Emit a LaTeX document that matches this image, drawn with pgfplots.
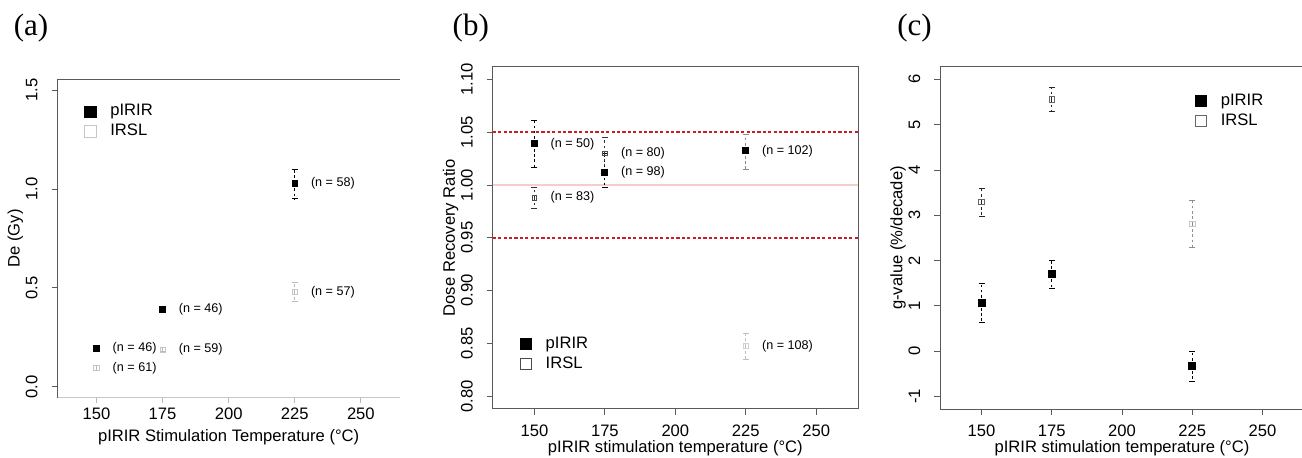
\documentclass[border=0pt]{standalone}
\usepackage{fontspec}
\setmainfont{Liberation Sans}
\newfontfamily\panelfont{Liberation Serif}
\usepackage{pgfplots}
\pgfplotsset{compat=1.18}

\definecolor{limred}{RGB}{200,30,40}
\definecolor{unitpink}{RGB}{245,205,205}
\definecolor{framegray}{gray}{0.35}

\newcommand\axfont{\fontsize{8.3}{10}\selectfont}
\newcommand\nfont{\fontsize{6.3}{7.5}\selectfont}

\pgfplotsset{
  rplot/.style={
    scale only axis,
    xmin=135.2, xmax=264.8,
    xtick={150,175,200,225,250},
    tick align=outside,
    major tick length=2.8pt,
    tick style={framegray, line width=0.5pt},
    axis line style={framegray, line width=0.5pt},
    /pgf/number format/assume math mode=true,
    ticklabel style={font=\axfont},
    xticklabel style={anchor=north, inner sep=0pt, yshift=-5pt},
    yticklabel style={xshift=-6.9pt, rotate=90, anchor=south, inner sep=0pt},
    label style={font=\axfont},
    xlabel style={at={([yshift=-19.5pt]axis description cs:0.5,0)}, anchor=center},
    ylabel style={at={([xshift=-21pt]axis description cs:0,0.5)}, anchor=center},
    legend style={draw=none, fill=none, inner sep=0pt, font=\axfont,
      row sep=2.6pt, nodes={inner sep=0pt},
      /tikz/every odd column/.append style={column sep=7.2pt}},
    legend cell align=left,
  },
  ebar/.style={
    error bars/y dir=both, error bars/y explicit,
    error bars/error bar style={#1, line width=0.5pt, dash pattern=on 1.3pt off 1.3pt},
    error bars/error mark options={rotate=90, mark size=1.5pt, #1}},
}

\begin{document}
\begin{tikzpicture}
\useasboundingbox (0,0) rectangle (651pt,229pt);

\node[font=\panelfont\fontsize{15.5}{18}\selectfont] at (15.5pt,214.85pt) {(a)};
\node[font=\panelfont\fontsize{15.5}{18}\selectfont] at (235.4pt,214.85pt) {(b)};
\node[font=\panelfont\fontsize{15.5}{18}\selectfont] at (457.3pt,214.85pt) {(c)};

% (a) equivalent dose
\begin{axis}[rplot,
  at={(28.65pt,30.15pt)}, anchor=south west,
  width=171.35pt, height=159.2pt,
  ymin=-0.055, ymax=1.555,
  ytick={0,0.5,1,1.5},
  yticklabel style={/pgf/number format/.cd, fixed, fixed zerofill, precision=1},
  xticklabel style={yshift=2.8pt},
  axis x line*=bottom, axis y line*=left,
  x axis line style={gray!45},
  xtick style={gray!55},
  xlabel={pIRIR Stimulation Temperature (°C)},
  xlabel style={yshift=-0.5pt},
  ylabel={De (Gy)},
  legend style={at={(axis description cs:0.079,0.922)}, anchor=north west},
  legend image code/.code={\draw[#1, mark size=2.8pt] plot coordinates {(0pt,0pt)};},
]
\draw[framegray, line width=0.5pt] (rel axis cs:0,1) -- (rel axis cs:1,1);
\addplot[only marks, mark=square*, mark size=1.4pt, black, ebar=black]
  coordinates {(150,0.194) +- (0,0.012) (175,0.390) +- (0,0.015)
               (225,1.030) += (0,0.070) -= (0,0.079)};
\addlegendentry{pIRIR}
\addplot[only marks, mark=square, mark size=1.3pt, gray!45, ebar=gray!55]
  coordinates {(150,0.095) +- (0,0.012) (175,0.188) +- (0,0.010)
               (225,0.479) += (0,0.050) -= (0,0.049)};
\addlegendentry{IRSL}
\node[anchor=west, font=\nfont, xshift=4.6pt] at (axis cs:150,0.194) {(n = 46)};
\node[anchor=west, font=\nfont, xshift=4.6pt] at (axis cs:150,0.095) {(n = 61)};
\node[anchor=west, font=\nfont, xshift=4.6pt] at (axis cs:175,0.390) {(n = 46)};
\node[anchor=west, font=\nfont, xshift=4.6pt] at (axis cs:175,0.188) {(n = 59)};
\node[anchor=west, font=\nfont, xshift=4.6pt] at (axis cs:225,1.030) {(n = 58)};
\node[anchor=west, font=\nfont, xshift=4.6pt] at (axis cs:225,0.479) {(n = 57)};
\end{axis}

% (b) dose recovery
\begin{axis}[rplot,
  at={(246.35pt,24.5pt)}, anchor=south west,
  width=182.65pt, height=171.15pt,
  ymin=0.788, ymax=1.112,
  ytick={0.80,0.85,...,1.11},
  yticklabel style={/pgf/number format/.cd, fixed, fixed zerofill, precision=2},
  xtick pos=bottom, ytick pos=left,
  xlabel={pIRIR stimulation temperature (°C)},
  ylabel={Dose Recovery Ratio},
  legend style={at={(axis description cs:0.074,0.212)}, anchor=north west},
  legend image code/.code={\draw[#1, mark size=2.8pt] plot coordinates {(0pt,0pt)};},
]
% unity and +/-5 % acceptance lines
\draw[unitpink, line width=0.7pt] (axis cs:135.2,1.00) -- (axis cs:264.8,1.00);
\draw[limred, line width=0.8pt, dash pattern=on 1.6pt off 1.1pt] (axis cs:135.2,1.05) -- (axis cs:264.8,1.05);
\draw[limred, line width=0.8pt, dash pattern=on 1.6pt off 1.1pt] (axis cs:135.2,0.95) -- (axis cs:264.8,0.95);
\addplot[only marks, mark=square*, mark size=1.5pt, black, ebar=black]
  coordinates {(150,1.039) += (0,0.0217) -= (0,0.022)
               (175,1.012) += (0,0.018) -= (0,0.014)};
\addlegendentry{pIRIR}
\addplot[only marks, mark=square, mark size=1.15pt, black!70, ebar=black!80]
  coordinates {(150,0.988) += (0,0.0095) -= (0,0.010)
               (175,1.030) += (0,0.015) -= (0,0.018)};
\addlegendentry{IRSL}
\addplot[forget plot, only marks, mark=square*, mark size=1.5pt, black, ebar=black!45]
  coordinates {(225,1.0324) += (0,0.0156) -= (0,0.0174)};
\addplot[forget plot, only marks, mark=square, mark size=1.15pt, gray!35, ebar=gray!50]
  coordinates {(225,0.8477) += (0,0.0123) -= (0,0.0132)};
\node[anchor=west, font=\nfont, xshift=4.6pt] at (axis cs:150,1.039) {(n = 50)};
\node[anchor=west, font=\nfont, xshift=4.6pt] at (axis cs:150,0.988) {(n = 83)};
\node[anchor=west, font=\nfont, xshift=4.6pt] at (axis cs:175,1.030) {(n = 80)};
\node[anchor=west, font=\nfont, xshift=4.6pt] at (axis cs:175,1.012) {(n = 98)};
\node[anchor=west, font=\nfont, xshift=4.6pt] at (axis cs:225,1.0324) {(n = 102)};
\node[anchor=west, font=\nfont, xshift=4.6pt] at (axis cs:225,0.8477) {(n = 108)};
\end{axis}

% (c) fading rate
\begin{axis}[rplot,
  at={(470pt,24.35pt)}, anchor=south west,
  width=182pt, height=171.3pt,
  ymin=-1.28, ymax=6.28,
  ytick={-1,0,...,6},
  xtick pos=bottom, ytick pos=left,
  xlabel={pIRIR stimulation temperature (°C)},
  ylabel={g-value (\%/decade)},
  legend style={at={(axis description cs:0.7,0.922)}, anchor=north west},
  legend image code/.code={\draw[#1, mark size=2.8pt] plot coordinates {(0pt,0pt)};},
]
\addplot[only marks, mark=square*, mark size=1.75pt, black, ebar=black]
  coordinates {(150,1.07) += (0,0.43) -= (0,0.44)
               (175,1.70) += (0,0.30) -= (0,0.32)
               (225,-0.32) += (0,0.32) -= (0,0.35)};
\addlegendentry{pIRIR}
\addplot[only marks, mark=square, mark size=1.4pt, black!60, ebar=black!85]
  coordinates {(150,3.30) += (0,0.29) -= (0,0.32)
               (175,5.56) += (0,0.27) -= (0,0.26)};
\addlegendentry{IRSL}
\addplot[forget plot, only marks, mark=square, mark size=1.4pt, gray!45, ebar=black!45]
  coordinates {(225,2.81) += (0,0.52) -= (0,0.52)};
\end{axis}
\end{tikzpicture}
\end{document}
